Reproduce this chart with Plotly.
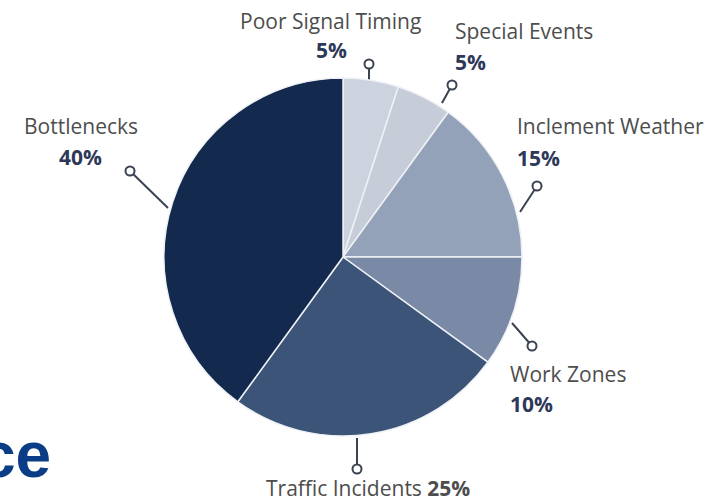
import plotly.graph_objects as go

# data
causes = ['Poor Signal Timing', 'Special Events', 'Inclement Weather',
          'Work Zones', 'Traffic Incidents', 'Bottlenecks']
shares = [5, 5, 15, 10, 25, 40]
colors = ['#cdd3de', '#c6cdd9', '#94a2b9', '#7a89a6', '#3b5478', '#132a4e']

W, H = 716, 502

fig = go.Figure()

fig.add_trace(go.Pie(
    labels=causes, values=shares, sort=False, direction='clockwise', rotation=0,
    marker=dict(colors=colors, line=dict(color='#eef1f5', width=1.5)),
    textinfo='none', hoverinfo='label+percent', showlegend=False,
    domain=dict(x=[164 / W, 522 / W], y=[1 - 436 / H, 1 - 78 / H]),
))

# leader lines: (edge point, circle point) in pixels
leaders = [((369, 80), (369, 64)),
           ((442, 103), (452, 85)),
           ((520, 212), (537, 186)),
           ((512, 323), (532, 346)),
           ((357, 438), (357, 469)),
           ((168, 208), (130, 171))]

for (x0, y0), (x1, y1) in leaders:
    fig.add_trace(go.Scatter(
        x=[x0, x1], y=[y0, y1], mode='lines', hoverinfo='skip', showlegend=False,
        line=dict(color='#3b4252', width=2)))
fig.add_trace(go.Scatter(
    x=[p[1][0] for p in leaders], y=[p[1][1] for p in leaders], mode='markers',
    hoverinfo='skip', showlegend=False,
    marker=dict(size=9, color='white', line=dict(color='#3b4252', width=2))))

name_font = dict(family='Open Sans', size=21, color='#4d4d4d')
pct_font = dict(family='Open Sans', size=21, color='#2e3858')

# (cause index, name pos, pct pos, anchor)
label_pos = [(0, (330, 21), (331, 50), 'center'),
             (1, (453, 31), (453, 62), 'left'),
             (2, (515, 126), (515, 158), 'left'),
             (3, (508, 374), (508, 404), 'left'),
             (5, (81, 126), (80, 157), 'center')]

for i, (nx, ny), (px, py), anc in label_pos:
    fig.add_annotation(x=nx, y=ny, text=causes[i], showarrow=False, xref='x', yref='y',
                       xanchor=anc, yanchor='middle', font=name_font)
    fig.add_annotation(x=px, y=py, text='<b>%d%%</b>' % shares[i], showarrow=False,
                       xref='x', yref='y', xanchor=anc, yanchor='middle', font=pct_font)

# traffic incidents label on one line
fig.add_annotation(x=368, y=488, text='%s <b>%d%%</b>' % (causes[4], shares[4]),
                   showarrow=False, xref='x', yref='y', xanchor='center', yanchor='middle',
                   font=name_font)

# cut-off heading fragment (cropped at the left edge in the original too)
fig.add_annotation(x=53, y=455, text='<b>ce</b>', showarrow=False, xref='x', yref='y',
                   xanchor='right', yanchor='middle',
                   font=dict(family='Liberation Sans', size=64, color='#0b3d86'))

fig.update_layout(
    width=W, height=H, margin=dict(l=0, r=0, t=0, b=0),
    paper_bgcolor='white', plot_bgcolor='white',
    xaxis=dict(range=[0, W], visible=False, domain=[0, 1], fixedrange=True),
    yaxis=dict(range=[H, 0], visible=False, domain=[0, 1], fixedrange=True),
)

fig.write_html("out.html", config={'displayModeBar': False},
               post_script="document.body.style.margin='0';")
